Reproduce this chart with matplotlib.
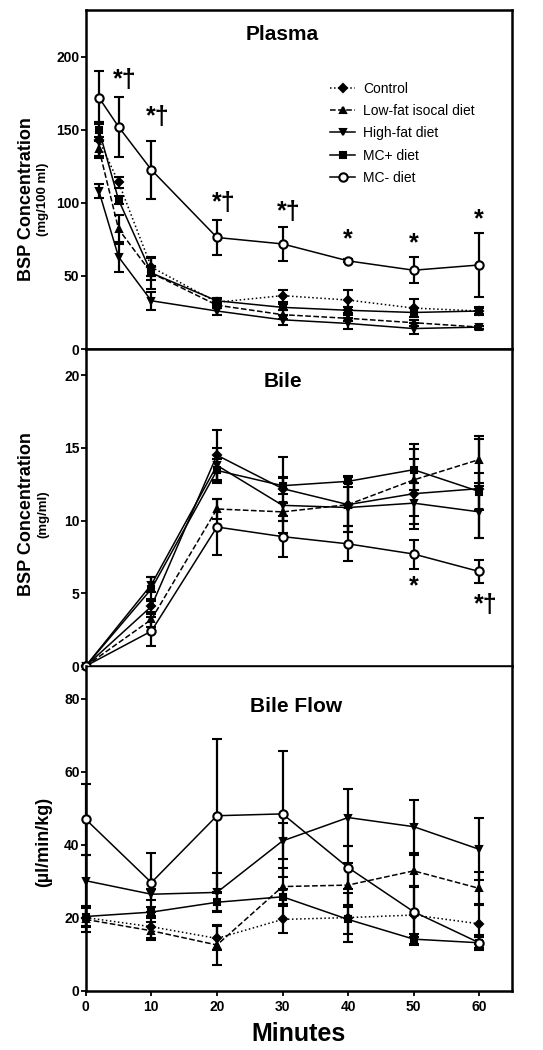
import numpy as np
import matplotlib.pyplot as plt

plt.rcParams['font.family'] = ['Liberation Sans', 'DejaVu Sans']
plt.rcParams['font.weight'] = 'bold'

groups = ['Control', 'Low-fat isocal diet', 'High-fat diet', 'MC+ diet', 'MC- diet']
markers = ['D', '^', 'v', 's', 'o']
msizes = [4.5, 5, 5, 4.5, 6]

# Plasma BSP (mg/100 ml)
plasma_min = [2, 5, 10, 20, 30, 40, 50, 60]
plasma_mean = [
    [143, 114, 56, 32, 36.5, 33.5, 28, 26],        # Control
    [137, 82, 52, 30, 23.5, 21, 18, 15],           # Low-fat
    [108, 63, 33, 26, 20, 17.5, 14, 15],           # High-fat
    [150, 102, 52, 33, 28.5, 26.5, 25, 26],        # MC+
    [172, 152, 122.6, 76.3, 71.9, 60.3, 53.9, 57.5],  # MC-
]
plasma_sem = [
    [12, 4, 6, 2, 4, 7, 6, 2],
    [5, 10, 11, 2, 3, 2, 2, 1],
    [5, 10, 6, 3, 3.5, 4, 4, 1],
    [5, 3, 5, 2, 2, 2, 3, 3],
    [18, 20.5, 20, 12, 11.7, 1, 9, 22],
]
plasma_sig_x = [5, 10, 20, 30, 40, 50, 60]
plasma_sig_y = [184, 159, 100, 94, 75, 72, 89]
plasma_sig = ['*†', '*†', '*†', '*†', '*', '*', '*']

# Bile BSP (mg/ml)
bile_min = [0, 10, 20, 30, 40, 50, 60]
bile_mean = [
    [0, 4.1, 14.5, 12.2, 11.1, 11.85, 12.2],
    [0, 3.2, 10.8, 10.6, 11.1, 12.8, 14.2],
    [0, 5.6, 13.8, 11.05, 10.9, 11.2, 10.6],
    [0, 5.3, 13.45, 12.4, 12.7, 13.5, 12.0],
    [0, 2.4, 9.56, 8.9, 8.4, 7.7, 6.5],
]
bile_sem = [
    [0, 0.5, 1.7, 2.2, 1.5, 2.4, 3.4],
    [0, 0.5, 0.7, 0.6, 1.9, 2.5, 1.6],
    [0, 0.5, 1.2, 1.9, 1.7, 1.4, 1.8],
    [0, 0.8, 0.8, 0.6, 0.4, 1.4, 1.3],
    [0, 1.0, 1.9, 1.4, 1.2, 1.0, 0.8],
]
bile_sig_x = [50, 60]
bile_sig_y = [5.5, 4.2]
bile_sig = ['*', '*†']

# Bile flow (ul/min/kg)
flow_min = [0, 10, 20, 30, 40, 50, 60]
flow_mean = [
    [20.1, 17.6, 14.4, 19.6, 20.1, 20.8, 18.4],
    [19.6, 16.5, 12.6, 28.6, 29.0, 32.9, 28.1],
    [30.2, 26.5, 27.0, 41.1, 47.5, 45.0, 38.8],
    [20.4, 21.6, 24.3, 25.8, 19.6, 14.2, 13.2],
    [47.0, 29.7, 48.0, 48.5, 33.8, 21.7, 13.2],
]
flow_sem = [
    [2.5, 3, 3.3, 3.8, 6.6, 8, 5.5],
    [3.5, 2.5, 5.5, 5, 6, 4.4, 4.5],
    [7, 1.5, 5.4, 5, 7.8, 7.3, 8.5],
    [2.7, 1.5, 2.5, 2, 4, 1.5, 2],
    [9.7, 8.2, 21, 17.3, 6, 7, 1.5],
]

fig = plt.figure(figsize=(5.43, 10.5), dpi=100)
left, width = 0.158, 0.785
ax1 = fig.add_axes([left, 0.6676, width, 0.323])
ax2 = fig.add_axes([left, 0.3657, width, 0.3019])
ax3 = fig.add_axes([left, 0.0562, width, 0.3095])


def draw(ax, x, means, sems, styles):
    lines = []
    for i in range(len(groups)):
        face = 'white' if markers[i] == 'o' else 'black'
        h = ax.errorbar(x, means[i], yerr=sems[i], color='black', ls=styles[i],
                        lw=1.1, marker=markers[i], ms=msizes[i], mfc=face,
                        mec='black', mew=1.5, capsize=3.5, capthick=1.6,
                        elinewidth=1.6, clip_on=False, label=groups[i], zorder=3)
        for art in h.lines[1] + h.lines[2]:
            art.set_clip_on(False)
        lines.append(h.lines[0])
    return lines


handles = draw(ax1, plasma_min, plasma_mean, plasma_sem, [':', '--', '-', '-', '-'])
draw(ax2, bile_min, bile_mean, bile_sem, ['-', '--', '-', '-', '-'])
draw(ax3, flow_min, flow_mean, flow_sem, [':', '--', '-', '-', '-'])

ax1.set_ylim(0, 232)
ax1.set_yticks([0, 50, 100, 150, 200])
ax2.set_ylim(0, 21.8)
ax2.set_yticks([0, 5, 10, 15, 20])
ax3.set_ylim(0, 89)
ax3.set_yticks([0, 20, 40, 60, 80])

for ax in (ax1, ax2, ax3):
    ax.set_xlim(0, 65)
    ax.set_xticks([0, 10, 20, 30, 40, 50, 60])
    for s in ax.spines.values():
        s.set_linewidth(1.8)
    ax.tick_params(axis='y', direction='out', length=3.5, width=1.3, labelsize=10, pad=1)
    ax.tick_params(axis='x', direction='out', length=3.5, width=1.3, labelsize=10, pad=3)
ax3.spines['top'].set_linewidth(1.0)
for ax in (ax1, ax2):
    ax.tick_params(axis='x', bottom=False, labelbottom=False)

ax1.text(30, 0.926 * 232, 'Plasma', ha='center', va='center', fontsize=15, fontweight='bold')
ax2.text(30, 0.896 * 21.8, 'Bile', ha='center', va='center', fontsize=15, fontweight='bold')
ax3.text(32, 0.874 * 89, 'Bile Flow', ha='center', va='center', fontsize=15, fontweight='bold')

for x, y, s in zip(plasma_sig_x, plasma_sig_y, plasma_sig):
    ax1.text(x + (1.0 if len(s) > 1 else 0), y, s, ha='center', va='center',
             fontsize=18, fontweight='bold')
for x, y, s in zip(bile_sig_x, bile_sig_y, bile_sig):
    ax2.text(x + (1.0 if len(s) > 1 else 0), y, s, ha='center', va='center',
             fontsize=18, fontweight='bold')

leg = ax1.legend(handles=handles, labels=groups, loc='upper left',
                 bbox_to_anchor=(0.56, 0.805),
                 frameon=False, handlelength=1.8, handletextpad=0.6,
                 labelspacing=0.6, borderaxespad=0,
                 prop={'family': 'Liberation Sans', 'weight': 'normal', 'size': 10})

fig.text(0.049, 0.81, 'BSP Concentration', rotation=90, ha='center', va='center',
         fontsize=13, fontweight='bold')
fig.text(0.08, 0.81, '(mg/100 ml)', rotation=90, ha='center', va='center',
         fontsize=9.5, fontweight='bold')
fig.text(0.049, 0.51, 'BSP Concentration', rotation=90, ha='center', va='center',
         fontsize=13, fontweight='bold')
fig.text(0.08, 0.51, '(mg/ml)', rotation=90, ha='center', va='center',
         fontsize=9.5, fontweight='bold')
fig.text(0.08, 0.198, '(\u00b5l/min/kg)', rotation=90, ha='center', va='center',
         fontsize=13, fontweight='bold')

ax3.set_xlabel('Minutes', fontsize=18, fontweight='bold', labelpad=6)

fig.savefig('out.png', dpi=100)
